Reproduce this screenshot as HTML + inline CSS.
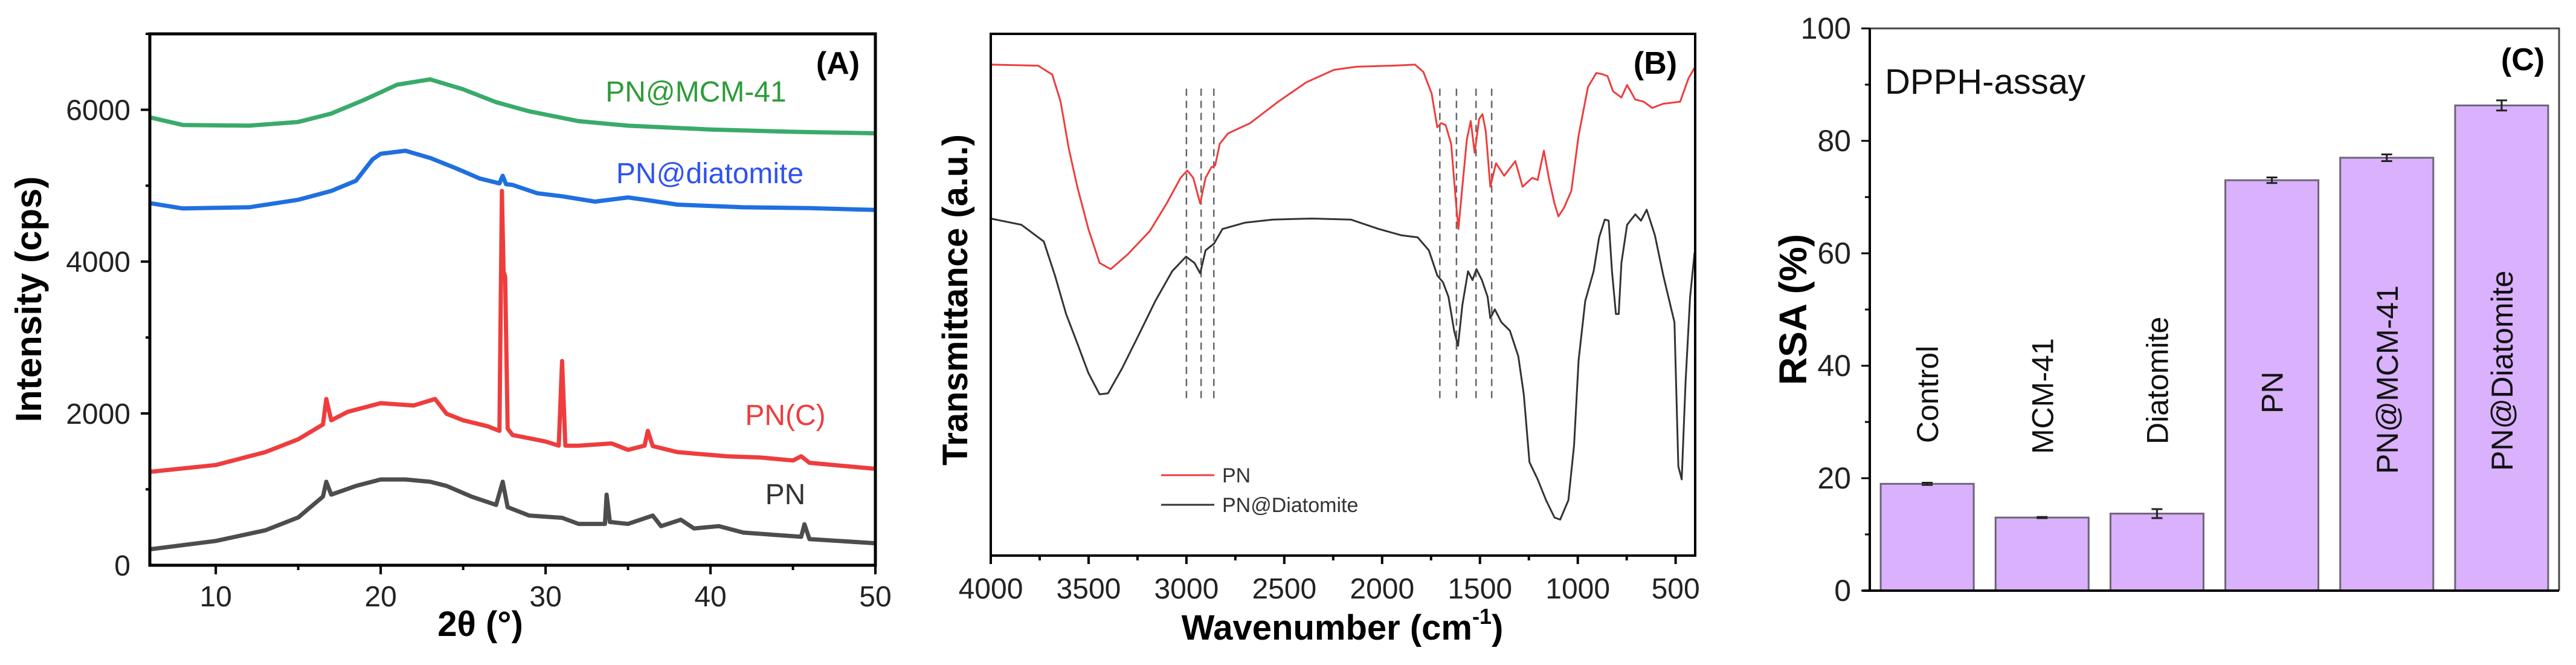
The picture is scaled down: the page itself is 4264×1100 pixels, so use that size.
<!DOCTYPE html>
<html><head><meta charset="utf-8"><style>
html,body{margin:0;padding:0;background:#fff;}
svg{display:block;font-family:"Liberation Sans",Arial,sans-serif;}
</style></head><body>
<svg id="fig" width="4264" height="1100" viewBox="0 0 4264 1100" xmlns="http://www.w3.org/2000/svg">
<rect width="4264" height="1100" fill="#fff"/>
</svg>
<script>
// ===== Panel A data (XRD) =====
const xrdMcmX=[6,8,12,15,17,19,21,23,25,27,29,32,35,40,45,50];
const xrdMcmY=[5900,5800,5790,5840,5950,6130,6330,6400,6270,6100,5980,5850,5790,5740,5710,5690];
const xrdDiaX=[6,8,12,15,17,18.5,19.5,20,21.5,23,24.5,26,27.2,27.4,27.6,28,29.5,31,33,35,36,38,42,46,50];
const xrdDiaY=[4770,4700,4715,4815,4930,5065,5345,5420,5460,5365,5235,5095,5030,5130,5020,5010,4900,4860,4790,4845,4815,4750,4715,4705,4680];
const xrdPncX=[6,10,13,15,16.5,16.7,17,18,20,22,23.3,24,25,26.5,27.2,27.35,27.45,27.55,27.7,28,30,30.8,31.0,31.2,32,34,35,36,36.2,36.5,38,41,43,45,45.5,46,50];
const xrdPncY=[1230,1320,1490,1660,1855,2190,1910,2020,2135,2105,2190,1995,1910,1830,1770,4930,3870,3800,1800,1715,1630,1575,2690,1575,1575,1605,1520,1575,1770,1570,1490,1435,1420,1380,1435,1350,1270];
const xrdPnX=[6,10,13,15,16.5,16.7,17,18.5,20,21.5,23,24,25.5,27,27.4,27.7,29,31,32,33.6,33.7,33.9,35,36.5,37,38.2,39,40.5,42,45.5,45.7,46,50];
const xrdPnY=[210,320,460,630,905,1100,930,1045,1130,1130,1100,1045,905,795,1100,765,655,625,545,545,930,570,545,655,515,600,485,515,430,375,540,345,290];
const xrdXTicks=[10,20,30,40,50];
const xrdYTicks=[0,2000,4000,6000];

// ===== Panel B data (FTIR) =====
const ftirPnWn=[4000,3758,3686,3643,3601,3558,3501,3444,3387,3301,3187,3101,3030,2996,2965,2930,2902,2873,2853,2830,2788,2674,2531,2388,2246,2132,1946,1832,1789,1747,1718,1698,1675,1647,1624,1610,1590,1567,1547,1527,1504,1487,1470,1447,1418,1376,1319,1282,1233,1205,1173,1148,1119,1099,1070,1033,996,948,905,877,848,820,777,748,706,663,620,563,477,434,403];
const ftirPnT=[94.1,93.9,92.2,87.0,78.0,70.7,62.6,56.1,54.9,57.7,62.2,67.5,72.4,73.8,72.4,67.5,72.4,74.4,74.8,78.9,80.9,82.9,87.0,90.7,93.1,93.7,93.9,94.1,92.7,88.6,82.1,82.9,82.5,78.9,68.3,62.6,70.7,79.7,83.3,77.2,83.7,84.6,81.3,70.7,75.2,72.8,75.6,70.7,72.4,72.0,77.6,72.4,67.5,65.0,66.7,69.9,80.5,89.8,92.5,92.3,91.9,89.0,87.8,90.2,87.4,87.0,85.8,86.6,87.0,91.5,93.5];
const ftirDiaWn=[4000,3843,3729,3672,3615,3558,3501,3444,3401,3330,3244,3159,3073,3002,2959,2930,2902,2859,2816,2702,2559,2360,2160,2017,1903,1818,1761,1718,1689,1661,1632,1612,1590,1561,1538,1518,1490,1461,1447,1424,1390,1347,1304,1276,1247,1205,1162,1119,1090,1048,1019,996,962,919,891,862,842,825,805,791,777,748,706,677,648,606,563,506,486,469,449,426,403];
const ftirDiaT=[64.6,63.4,60.2,53.7,46.3,40.7,35.0,30.9,31.1,35.8,42.3,48.8,54.5,57.3,56.1,54.1,58.5,59.8,62.6,63.8,64.4,64.6,64.4,62.6,61.4,61.0,58.5,53.7,52.4,49.6,43.1,40.2,48.0,54.5,52.8,54.9,52.8,49.6,45.5,47.2,44.7,43.1,38.2,30.9,17.9,14.6,10.6,7.3,6.9,10.6,21.1,37.4,48.8,54.5,61.0,64.4,64.2,54.5,46.3,46.3,56.1,63.4,65.4,64.2,66.3,61.4,53.7,44.7,17.1,14.6,33.3,49.6,58.1];
const ftirDashWn=[3000,2925,2860,1705,1620,1520,1440];
const ftirXTicks=[4000,3500,3000,2500,2000,1500,1000,500];

// ===== Panel C data (DPPH) =====
const dpphCats=["Control","MCM-41","Diatomite","PN","PN@MCM-41","PN@Diatomite"];
const dpphVals=[19.0,13.0,13.7,73.0,77.0,86.3];
const dpphErr=[0.2,0.1,0.8,0.5,0.6,0.9];
const dpphYTicks=[0,20,40,60,80,100];

const NS="http://www.w3.org/2000/svg";
const svg=document.getElementById('fig');
function mk(tag,attrs,parent){const e=document.createElementNS(NS,tag);for(const k in attrs)e.setAttribute(k,attrs[k]);(parent||svg).appendChild(e);return e;}
function txt(s,attrs,parent){const e=mk('text',attrs,parent);e.textContent=s;return e;}

// ---------- Panel A ----------
const A={l:248,r:1449,t:56,b:935,x0:6,x1:50,y0:0,y1:7000};
const ax=v=>A.l+(v-A.x0)/(A.x1-A.x0)*(A.r-A.l);
const ay=v=>A.b-(v-A.y0)/(A.y1-A.y0)*(A.b-A.t);
const gA=mk('g',{});


function lineA(xs,ys,color,name){
  const p=mk('path',{d:xs.map((x,i)=>(i?'L':'M')+ax(x).toFixed(1)+' '+ay(ys[i]).toFixed(1)).join(''),fill:'none',stroke:color,'stroke-width':7,'stroke-linejoin':'round'},gA);
  
  
}
lineA(xrdPnX,xrdPnY,'#4d4d4d','series-pn');
lineA(xrdPncX,xrdPncY,'#ee3d3d','series-pn-c');
lineA(xrdDiaX,xrdDiaY,'#1f6fe0','series-pn-diatomite');
lineA(xrdMcmX,xrdMcmY,'#3aaa6a','series-pn-mcm41');
const frA=mk('rect',{x:A.l,y:A.t,width:A.r-A.l,height:A.b-A.t,fill:'none',stroke:'#000','stroke-width':5},gA);


for(let v=10;v<=50;v+=5){const x=ax(v);mk('line',{x1:x,y1:A.b,x2:x,y2:A.b+(v%10?8:15),stroke:'#000','stroke-width':4},gA);}
for(let v=1000;v<=7000;v+=1000){const y=ay(v);mk('line',{x1:A.l,y1:y,x2:A.l-(v%2000?7:15),y2:y,stroke:'#000','stroke-width':4},gA);}
xrdXTicks.forEach(v=>{const t=txt(String(v),{x:ax(v),y:1003,'font-size':48,'text-anchor':'middle',fill:'#222'},gA);});
xrdYTicks.forEach(v=>{const t=txt(String(v),{x:216,y:ay(v)+17,'font-size':48,'text-anchor':'end',fill:'#222'},gA);});
let t;
t=txt('Intensity (cps)',{x:0,y:0,'font-size':60,'font-weight':'bold','text-anchor':'middle',transform:'translate(68,495) rotate(-90)'},gA);
t=txt('2θ (°)',{x:795,y:1052,'font-size':58,'font-weight':'bold','text-anchor':'middle'},gA);
t=txt('(A)',{x:1387,y:122,'font-size':52,'font-weight':'bold','text-anchor':'middle'},gA);
t=txt('PN@MCM-41',{x:1152,y:168,'font-size':48,'text-anchor':'middle',fill:'#2e9b3a'},gA);
t=txt('PN@diatomite',{x:1175,y:303,'font-size':48,'text-anchor':'middle',fill:'#2f52f0'},gA);
t=txt('PN(C)',{x:1300,y:703,'font-size':48,'text-anchor':'middle',fill:'#ee3d3d'},gA);
t=txt('PN',{x:1300,y:834,'font-size':48,'text-anchor':'middle',fill:'#333'},gA);

// ---------- Panel B ----------
const B={l:1640,r:2806,t:56,b:919,x0:4000,x1:400,y0:0,y1:100};
const bx=v=>B.l+(v-B.x0)/(B.x1-B.x0)*(B.r-B.l);
const by=v=>B.b-(v-B.y0)/(B.y1-B.y0)*(B.b-B.t);
const gB=mk('g',{});


ftirDashWn.forEach(w=>{const l=mk('line',{x1:bx(w),y1:by(89.5),x2:bx(w),y2:by(29.4),stroke:'#666','stroke-width':2.5,'stroke-dasharray':'12 8'},gB);});
function lineB(xs,ys,color,name){
  const p=mk('path',{d:xs.map((x,i)=>(i?'L':'M')+bx(x).toFixed(1)+' '+by(ys[i]).toFixed(1)).join(''),fill:'none',stroke:color,'stroke-width':3,'stroke-linejoin':'round'},gB);
  
  
}
lineB(ftirPnWn,ftirPnT,'#ee3d3d','series-pn-ftir');
lineB(ftirDiaWn,ftirDiaT,'#333','series-pn-diatomite-ftir');
const frB=mk('rect',{x:B.l,y:B.t,width:B.r-B.l,height:B.b-B.t,fill:'none',stroke:'#000','stroke-width':4},gB);


for(let v=4000;v>=500;v-=250){const x=bx(v);mk('line',{x1:x,y1:B.b,x2:x,y2:B.b+(v%500?8:14),stroke:'#000','stroke-width':4},gB);}
ftirXTicks.forEach(v=>{const t=txt(String(v),{x:bx(v),y:990,'font-size':48,'text-anchor':'middle',fill:'#222'},gB);});
t=txt('Transmittance (a.u.)',{x:0,y:0,'font-size':58,'font-weight':'bold','text-anchor':'middle',transform:'translate(1601,496) rotate(-90)'},gB);
t=mk('text',{x:2222,y:1058,'font-size':58,'font-weight':'bold','text-anchor':'middle'},gB);t.innerHTML='Wavenumber (cm<tspan font-size="36" dy="-26">-1</tspan><tspan dy="26">)</tspan>';
t=txt('(B)',{x:2740,y:122,'font-size':52,'font-weight':'bold','text-anchor':'middle'},gB);
const lgB=mk('g',{},gB);


mk('line',{x1:1922,y1:786,x2:2010,y2:786,stroke:'#ee3d3d','stroke-width':3},lgB);
txt('PN',{x:2023,y:798,'font-size':34,fill:'#333'},lgB);
mk('line',{x1:1922,y1:835,x2:2010,y2:835,stroke:'#333','stroke-width':3},lgB);
txt('PN@Diatomite',{x:2023,y:847,'font-size':34,fill:'#333'},lgB);

// ---------- Panel C ----------
const C={l:3095,r:4236,t:47,b:977,y0:0,y1:100};
const cy=v=>C.b-(v-C.y0)/(C.y1-C.y0)*(C.b-C.t);
const band=(C.r-C.l)/dpphCats.length;
const cx=i=>C.l+band*(i+0.5);
const bw=band*0.81;
const gC=mk('g',{});


const labelStart=[733,751,735,684,784,779];
dpphVals.forEach((v,i)=>{
  const r=mk('rect',{x:cx(i)-bw/2,y:cy(v),width:bw,height:cy(0)-cy(v),fill:'#d9b1fc',stroke:'#6e6477','stroke-width':3},gC);
  
  
  const e=dpphErr[i],x=cx(i);
  const eb=mk('path',{d:`M${x} ${cy(v+e)}L${x} ${cy(v-e)}M${x-9} ${cy(v+e)}L${x+9} ${cy(v+e)}M${x-9} ${cy(v-e)}L${x+9} ${cy(v-e)}`,stroke:'#222','stroke-width':3,fill:'none'},gC);
  
  
  const lt=txt(dpphCats[i],{x:0,y:0,'font-size':50,fill:'#111',transform:`translate(${x+18},${labelStart[i]}) rotate(-90)`},gC);
  
  
});
mk('path',{d:`M${C.l} ${C.t}L${C.r} ${C.t}L${C.r} ${C.b}`,fill:'none',stroke:'#444','stroke-width':3},gC);
mk('line',{x1:C.l,y1:C.t,x2:C.l,y2:C.b,stroke:'#000','stroke-width':4},gC);
mk('line',{x1:C.l-12,y1:C.b,x2:C.r,y2:C.b,stroke:'#000','stroke-width':4},gC);
for(let v=0;v<=100;v+=10){const y=cy(v);mk('line',{x1:C.l,y1:y,x2:C.l-(v%20?8:14),y2:y,stroke:'#000','stroke-width':3},gC);}
dpphYTicks.forEach(v=>{const t=txt(String(v),{x:3064,y:cy(v)+17,'font-size':50,'text-anchor':'end',fill:'#222'},gC);});
t=txt('RSA (%)',{x:0,y:0,'font-size':64,'font-weight':'bold','text-anchor':'middle',transform:'translate(2990,512) rotate(-90)'},gC);
t=txt('DPPH-assay',{x:3120,y:155,'font-size':58,fill:'#111'},gC);
t=txt('(C)',{x:4176,y:116,'font-size':52,'font-weight':'bold','text-anchor':'middle'},gC);
</script>
</body></html>
